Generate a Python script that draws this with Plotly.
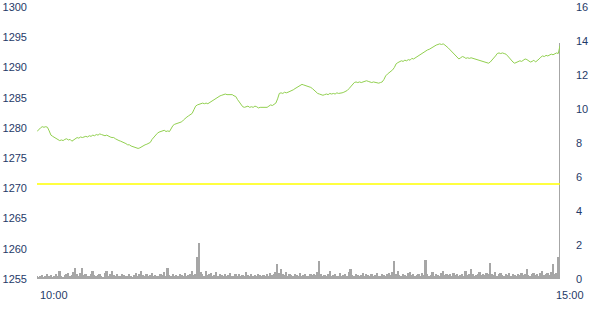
import plotly.graph_objects as go

# minute index from 10:00 (0) to 15:00 (300)
price = [
    1279.4, 1279.8, 1280.0, 1280.2, 1280.1, 1280.2, 1280.1, 1279.5, 1278.8, 1278.6,
    1278.4, 1278.3, 1278.0, 1277.9, 1278.0, 1277.9, 1278.1, 1278.2, 1278.0, 1278.1,
    1277.8, 1278.0, 1278.2, 1278.4, 1278.3, 1278.5, 1278.4, 1278.5, 1278.6, 1278.5,
    1278.7, 1278.6, 1278.8, 1278.7, 1278.9, 1278.8, 1279.0, 1278.9, 1278.8, 1278.7,
    1278.8, 1278.6, 1278.5, 1278.4, 1278.4, 1278.2, 1278.0, 1277.9, 1277.8, 1277.7,
    1277.5, 1277.4, 1277.2, 1277.2, 1277.0, 1276.9, 1276.8, 1276.7, 1276.6, 1276.7,
    1276.9, 1277.0, 1277.2, 1277.3, 1277.5, 1277.6, 1278.1, 1278.5, 1278.9, 1279.1,
    1279.3, 1279.4, 1279.5, 1279.6, 1279.4, 1279.5, 1279.4, 1279.9, 1280.4, 1280.6,
    1280.7, 1280.8, 1280.9, 1281.0, 1281.3, 1281.6, 1281.8, 1282.0, 1282.2, 1282.4,
    1283.0, 1283.6, 1283.8, 1283.9, 1284.0, 1284.1, 1284.0, 1284.1, 1284.0, 1284.2,
    1284.3, 1284.5, 1284.7, 1284.9, 1285.1, 1285.3, 1285.4, 1285.5, 1285.6, 1285.5,
    1285.5, 1285.4, 1285.5, 1285.3, 1285.2, 1284.7, 1284.3, 1283.9, 1283.5, 1283.4,
    1283.5, 1283.6, 1283.4, 1283.5, 1283.4, 1283.6, 1283.5, 1283.3, 1283.4, 1283.4,
    1283.5, 1283.4, 1283.4, 1283.6, 1283.8, 1283.7, 1283.9, 1284.1, 1284.8, 1285.7,
    1285.8, 1285.7, 1285.9, 1285.8, 1285.9, 1286.0, 1286.1, 1286.3, 1286.5, 1286.7,
    1286.9, 1287.1, 1287.2, 1287.1, 1287.0, 1287.0, 1286.9, 1286.7, 1286.5, 1286.2,
    1285.9, 1285.7, 1285.6, 1285.5, 1285.4, 1285.5, 1285.6, 1285.5, 1285.7, 1285.6,
    1285.7, 1285.6, 1285.8, 1285.7, 1285.7, 1285.8, 1285.9, 1286.0, 1286.2, 1286.5,
    1286.9, 1287.3, 1287.5, 1287.6, 1287.5, 1287.6, 1287.5, 1287.6, 1287.7, 1287.8,
    1287.7, 1287.6, 1287.5, 1287.6, 1287.5, 1287.4, 1287.4, 1287.5, 1287.6, 1288.0,
    1288.6, 1288.9, 1289.1, 1289.4, 1289.6, 1290.0, 1290.6, 1290.8, 1291.0, 1291.1,
    1291.0, 1291.2, 1291.1, 1291.3, 1291.2, 1291.5, 1291.4, 1291.6, 1291.8, 1291.9,
    1292.1, 1292.4, 1292.6, 1292.7, 1292.9, 1293.0, 1293.2, 1293.3, 1293.5, 1293.7,
    1293.8, 1293.9, 1293.8, 1293.9, 1293.7, 1293.5, 1293.2, 1292.9, 1292.6, 1292.3,
    1291.9, 1291.6, 1291.4, 1291.6, 1291.8, 1291.7, 1291.5, 1291.6, 1291.5, 1291.6,
    1291.5, 1291.4, 1291.3, 1291.3, 1291.2, 1291.1, 1291.0, 1290.9, 1290.8, 1290.7,
    1290.9, 1291.2, 1291.5, 1291.9, 1292.3, 1292.4, 1292.3, 1292.4, 1292.3, 1292.2,
    1291.9, 1291.5, 1291.2, 1290.9, 1290.7, 1290.8, 1291.0, 1291.1, 1291.0, 1291.2,
    1291.4, 1291.3, 1291.1, 1290.9, 1291.0, 1291.2, 1290.9, 1291.1, 1291.4, 1291.7,
    1291.9, 1291.8, 1292.0, 1291.9, 1292.1, 1292.2, 1292.1, 1292.3, 1292.4, 1292.3,
    1293.6,
]

volume = [
    0.15, 0.1, 0.2, 0.25, 0.12, 0.18, 0.3, 0.15, 0.22, 0.1,
    0.2, 0.28, 0.15, 0.47, 0.2, 0.12, 0.25, 0.3, 0.35, 0.2,
    0.25, 0.4, 0.67, 0.3, 0.2, 0.35, 0.63, 0.25, 0.3, 0.2,
    0.18, 0.3, 0.47, 0.22, 0.15, 0.25, 0.3, 0.2, 0.12, 0.35,
    0.5, 0.2, 0.3, 0.5, 0.25, 0.15, 0.3, 0.2, 0.18, 0.28,
    0.25, 0.15, 0.2, 0.3, 0.18, 0.12, 0.25, 0.35, 0.2, 0.3,
    0.5, 0.25, 0.15, 0.3, 0.2, 0.22, 0.35, 0.18, 0.25, 0.2,
    0.15, 0.3, 0.25, 0.4, 0.2, 0.63, 0.25, 0.18, 0.3, 0.2,
    0.22, 0.15, 0.3, 0.25, 0.2, 0.35, 0.18, 0.25, 0.3, 0.45,
    0.25, 0.3, 1.3, 2.1, 0.4, 0.3, 0.2, 0.45, 0.25, 0.3,
    0.35, 0.2, 0.25, 0.4, 0.18, 0.3, 0.22, 0.15, 0.3, 0.2,
    0.25, 0.35, 0.2, 0.15, 0.28, 0.2, 0.3, 0.18, 0.25, 0.2,
    0.4, 0.22, 0.15, 0.3, 0.2, 0.25, 0.18, 0.3, 0.22, 0.15,
    0.25, 0.2, 0.3, 0.18, 0.35, 0.25, 0.3, 0.4, 0.9, 0.35,
    0.6, 0.3, 0.25, 0.4, 0.2, 0.3, 0.22, 0.18, 0.3, 0.25,
    0.2, 0.35, 0.15, 0.25, 0.3, 0.2, 0.18, 0.28, 0.22, 0.3,
    0.25, 0.4, 1.05, 0.3, 0.2, 0.25, 0.18, 0.3, 0.45, 0.2,
    0.25, 0.3, 0.2, 0.15, 0.35, 0.2, 0.25, 0.3, 0.18, 0.4,
    0.6, 0.25, 0.2, 0.3, 0.22, 0.15, 0.25, 0.35, 0.2, 0.3,
    0.25, 0.18, 0.3, 0.2, 0.25, 0.35, 0.2, 0.15, 0.3, 0.25,
    0.2, 0.3, 0.35, 0.25, 0.4, 1.06, 0.3, 0.5, 0.25, 0.2,
    0.3, 0.25, 0.2, 0.35, 0.4, 0.22, 0.3, 0.2, 0.25, 0.3,
    0.18, 0.35, 0.25, 1.1, 0.3, 0.2, 0.25, 0.4, 0.2, 0.3,
    0.25, 0.2, 0.35, 0.5, 0.22, 0.3, 0.25, 0.3, 0.2, 0.35,
    0.25, 0.3, 0.2, 0.25, 0.3, 0.2, 0.5, 0.25, 0.3, 0.57,
    0.3, 0.2, 0.25, 0.3, 0.4, 0.22, 0.3, 0.25, 0.35, 0.3,
    0.96, 0.3, 0.25, 0.4, 0.2, 0.3, 0.35, 0.25, 0.2, 0.3,
    0.25, 0.35, 0.2, 0.3, 0.25, 0.18, 0.3, 0.22, 0.35, 0.25,
    0.3, 0.6, 0.25, 0.2, 0.3, 0.35, 0.25, 0.3, 0.2, 0.35,
    0.5, 0.25, 0.3, 0.35, 0.25, 0.4, 0.86, 0.3, 0.35, 1.3,
    13.9,
]

minutes = list(range(len(price)))
prev_close = 1270.7
x_tick_pos = [0, 300]
x_tick_labels = ["10:00", "15:00"]

TXT = "#1F3A68"
FONT = dict(family="Liberation Sans, Arial, sans-serif", size=11, color=TXT)

fig = go.Figure()
fig.add_trace(go.Bar(x=minutes, y=volume, marker=dict(color="#A6A6A6", line=dict(width=0)),
                     yaxis="y", showlegend=False))
fig.add_trace(go.Scatter(x=[minutes[0], minutes[-1]], y=[prev_close, prev_close], mode="lines",
                         line=dict(color="#FFFF00", width=1.5), yaxis="y2", showlegend=False))
fig.add_trace(go.Scatter(x=minutes, y=price, mode="lines",
                         line=dict(color="#92D050", width=1), yaxis="y2", showlegend=False))

fig.update_layout(
    width=597, height=320,
    margin=dict(l=37, r=37, t=7, b=41),
    paper_bgcolor="white", plot_bgcolor="white",
    bargap=0,
    xaxis=dict(range=[0, 300], showgrid=False, zeroline=False, showline=False,
               showticklabels=False, ticks="", automargin=False),
    yaxis=dict(range=[0, 16], dtick=2, side="right", showgrid=False, zeroline=False,
               showline=False, ticks="", tickfont=FONT, ticklabelstandoff=15, automargin=False),
    yaxis2=dict(range=[1255, 1300], dtick=5, side="left", overlaying="y", showgrid=False,
                zeroline=False, showline=False, ticks="", tickfont=FONT, ticklabelstandoff=9,
                automargin=False),
    annotations=[
        dict(x=x_tick_pos[0], y=0, xref="x", yref="paper", text=x_tick_labels[0], showarrow=False,
             xanchor="left", yanchor="middle", xshift=1, yshift=-16, font=FONT),
        dict(x=x_tick_pos[1], y=0, xref="x", yref="paper", text=x_tick_labels[1], showarrow=False,
             xanchor="left", yanchor="middle", xshift=-6, yshift=-16, font=FONT),
    ],
)

fig.write_html("out.html")
